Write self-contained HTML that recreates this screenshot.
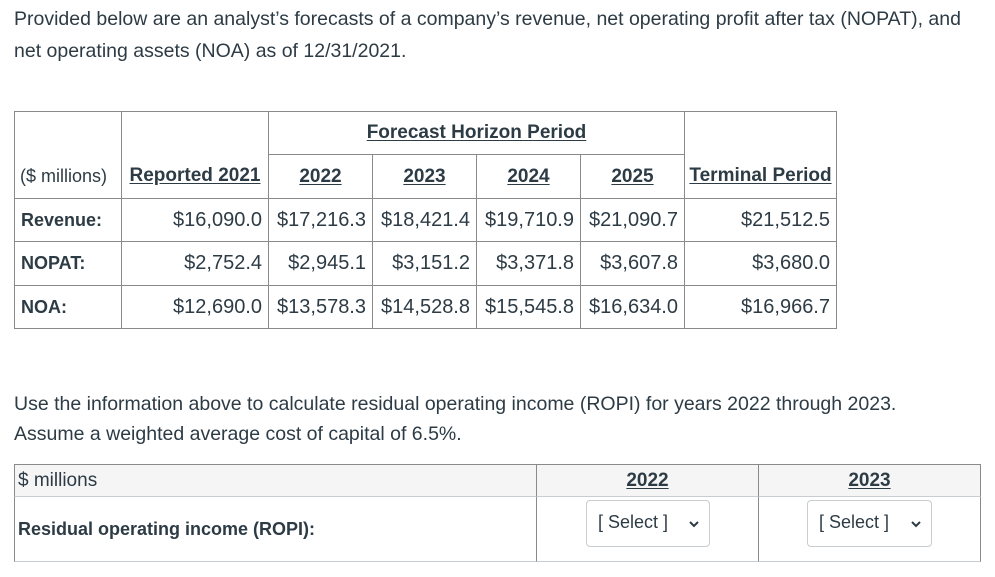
<!DOCTYPE html>
<html><head><meta charset="utf-8">
<style>
body{margin:0;width:995px;height:577px;background:#fff;position:relative;overflow:hidden;font-family:"Liberation Sans",sans-serif;color:#2d3b45;font-size:20px}
.t{position:absolute;white-space:nowrap;line-height:22px;font-size:19.5px}
.c{position:absolute;box-sizing:border-box;border:1px solid #8a8a8a;display:flex;align-items:center;padding:0 6px;white-space:nowrap}
.r{justify-content:flex-end}.m{justify-content:center}
u{text-decoration:underline;text-underline-offset:2px}
.b{font-weight:bold;font-size:19px}
.lab{font-weight:bold;font-size:18px}
.sel{position:absolute;box-sizing:border-box;border:1px solid #c7cdd1;border-radius:4px;background:#fff;font-size:18px;display:flex;align-items:center;padding-left:11px}
.sel svg{position:absolute;right:10px;top:20px}
</style></head><body>
<div class="t" style="left:14px;top:8px">Provided below are an analyst’s forecasts of a company’s revenue, net operating profit after tax (NOPAT), and</div>
<div class="t" style="left:14px;top:40px">net operating assets (NOA) as of 12/31/2021.</div>

<div>
<div class="c" style="left:14px;top:111px;width:108px;height:88px;align-items:flex-end;padding-bottom:11px;padding-left:5px;font-size:18px">($ millions)</div>
<div class="c m b" style="left:121px;top:111px;width:148px;height:88px;align-items:flex-end;padding-bottom:11px"><u>Reported 2021</u></div>
<div class="c m b" style="left:268px;top:111px;width:417px;height:44px"><u>Forecast Horizon Period</u></div>
<div class="c m b" style="left:268px;top:154px;width:105px;height:45px"><u>2022</u></div>
<div class="c m b" style="left:372px;top:154px;width:105px;height:45px"><u>2023</u></div>
<div class="c m b" style="left:476px;top:154px;width:105px;height:45px"><u>2024</u></div>
<div class="c m b" style="left:580px;top:154px;width:105px;height:45px"><u>2025</u></div>
<div class="c m b" style="left:684px;top:111px;width:153px;height:88px;align-items:flex-end;padding-bottom:11px"><u>Terminal Period</u></div>

<div class="c lab" style="left:14px;top:198px;width:108px;height:44px">Revenue:</div>
<div class="c r" style="left:121px;top:198px;width:148px;height:44px">$16,090.0</div>
<div class="c r" style="left:268px;top:198px;width:105px;height:44px">$17,216.3</div>
<div class="c r" style="left:372px;top:198px;width:105px;height:44px">$18,421.4</div>
<div class="c r" style="left:476px;top:198px;width:105px;height:44px">$19,710.9</div>
<div class="c r" style="left:580px;top:198px;width:105px;height:44px">$21,090.7</div>
<div class="c r" style="left:684px;top:198px;width:153px;height:44px">$21,512.5</div>

<div class="c lab" style="left:14px;top:241px;width:108px;height:45px">NOPAT:</div>
<div class="c r" style="left:121px;top:241px;width:148px;height:45px">$2,752.4</div>
<div class="c r" style="left:268px;top:241px;width:105px;height:45px">$2,945.1</div>
<div class="c r" style="left:372px;top:241px;width:105px;height:45px">$3,151.2</div>
<div class="c r" style="left:476px;top:241px;width:105px;height:45px">$3,371.8</div>
<div class="c r" style="left:580px;top:241px;width:105px;height:45px">$3,607.8</div>
<div class="c r" style="left:684px;top:241px;width:153px;height:45px">$3,680.0</div>

<div class="c lab" style="left:14px;top:285px;width:108px;height:44px">NOA:</div>
<div class="c r" style="left:121px;top:285px;width:148px;height:44px">$12,690.0</div>
<div class="c r" style="left:268px;top:285px;width:105px;height:44px">$13,578.3</div>
<div class="c r" style="left:372px;top:285px;width:105px;height:44px">$14,528.8</div>
<div class="c r" style="left:476px;top:285px;width:105px;height:44px">$15,545.8</div>
<div class="c r" style="left:580px;top:285px;width:105px;height:44px">$16,634.0</div>
<div class="c r" style="left:684px;top:285px;width:153px;height:44px">$16,966.7</div>
</div>

<div class="t" style="left:14px;top:393px">Use the information above to calculate residual operating income (ROPI) for years 2022 through 2023.</div>
<div class="t" style="left:14px;top:423px">Assume a weighted average cost of capital of 6.5%.</div>

<div>
<div class="c" style="left:14px;top:464px;width:523px;height:33px;background:#f5f5f5;padding-left:3px;font-size:19px">$ millions</div>
<div class="c m b" style="left:536px;top:464px;width:223px;height:33px;background:#f5f5f5"><u>2022</u></div>
<div class="c m b" style="left:758px;top:464px;width:223px;height:33px;background:#f5f5f5"><u>2023</u></div>
<div class="c lab" style="left:14px;top:496px;width:523px;height:66px;padding-left:3px;border-color:#c7cdd1 #8a8a8a #c7cdd1 #8a8a8a">Residual operating income (ROPI):</div>
<div class="c" style="left:536px;top:496px;width:223px;height:66px;border-color:#c7cdd1 #8a8a8a"></div>
<div class="c" style="left:758px;top:496px;width:223px;height:66px;border-color:#c7cdd1 #8a8a8a"></div>
<div class="sel" style="left:586px;top:500px;width:124px;height:47px;align-items:flex-start;padding-top:11px">[ Select ]<svg width="10" height="7"><path d="M1 1 L5 5 L9 1" stroke="#2d3b45" stroke-width="2" fill="none"/></svg></div>
<div class="sel" style="left:807px;top:500px;width:125px;height:47px;align-items:flex-start;padding-top:11px">[ Select ]<svg width="10" height="7"><path d="M1 1 L5 5 L9 1" stroke="#2d3b45" stroke-width="2" fill="none"/></svg></div>
</div>
</body></html>
